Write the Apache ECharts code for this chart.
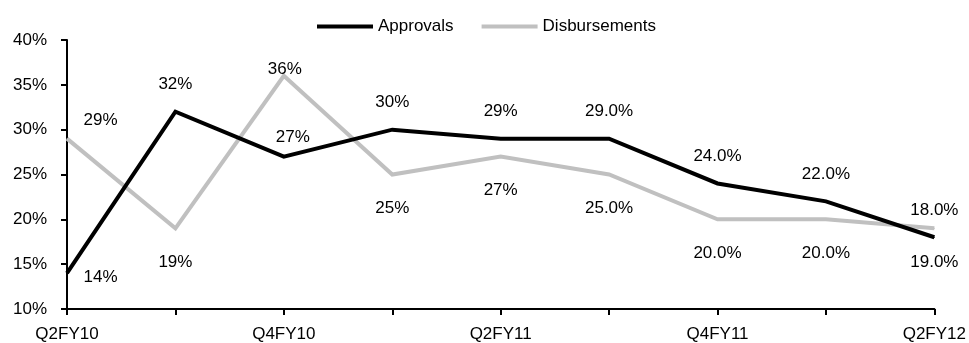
<!DOCTYPE html>
<html>
<head>
<meta charset="utf-8">
<script src="https://cdn.jsdelivr.net/npm/echarts@6/dist/echarts.min.js"></script>
<style>
  html, body { margin: 0; padding: 0; background: #fff; }
  #chart { width: 969px; height: 343px; }
</style>
</head>
<body>
<div id="chart"></div>
<script>
// Quarterly growth rates (%), approvals vs disbursements
var quarters = ['Q2FY10', 'Q3FY10', 'Q4FY10', 'Q1FY11', 'Q2FY11', 'Q3FY11', 'Q4FY11', 'Q1FY12', 'Q2FY12'];
var approvals = [14, 32, 27, 30, 29, 29, 24, 22, 18];
var disbursements = [29, 19, 36, 25, 27, 25, 20, 20, 19];
// decimals shown in each quarter's value label
var labelDecimals = [0, 0, 0, 0, 0, 1, 1, 1, 1];
var yTicks = { min: 10, max: 40, step: 5 };

var FONT = "'Liberation Sans', Arial, Helvetica, sans-serif";

function fmt(v, i) {
  return v.toFixed(labelDecimals[i]) + '%';
}

// per-point label placement tweaks where lines cross or sit at the edge
var approvalsLabelTweaks = {
  0: { position: 'right', distance: 16, offset: [0, 4] },
  2: { position: 'top', distance: 10, offset: [9, 0] }
};
var disbursementsLabelTweaks = {
  0: { position: 'right', distance: 16, offset: [0, -18] },
  2: { position: 'top', distance: -2, offset: [1, 0] }
};

function buildData(values, tweaks) {
  return values.map(function (v, i) {
    var item = { value: v };
    if (tweaks[i]) item.label = tweaks[i];
    return item;
  });
}

var labelBase = {
  show: true,
  color: '#000',
  fontSize: 17,
  fontFamily: FONT
};

var chart = echarts.init(document.getElementById('chart'), null, { renderer: 'canvas' });

chart.setOption({
  animation: false,
  backgroundColor: '#fff',
  textStyle: { fontFamily: FONT },
  grid: { left: 67, right: 33, top: 40, bottom: 34, containLabel: false },
  legend: {
    left: 312,
    top: 13,
    itemWidth: 56,
    itemHeight: 4,
    itemGap: 28,
    icon: 'rect',
    textStyle: { color: '#000', fontSize: 17, fontFamily: FONT },
    data: ['Approvals', 'Disbursements']
  },
  xAxis: {
    type: 'category',
    boundaryGap: false,
    data: quarters,
    axisLine: { lineStyle: { color: '#000', width: 2 } },
    axisTick: { show: true, interval: 0, length: 6, lineStyle: { color: '#000', width: 2 } },
    axisLabel: { interval: 1, color: '#000', fontSize: 17, fontFamily: FONT, margin: 17 },
    splitLine: { show: false }
  },
  yAxis: {
    type: 'value',
    min: yTicks.min,
    max: yTicks.max,
    interval: yTicks.step,
    axisLine: { show: true, lineStyle: { color: '#000', width: 2 } },
    axisTick: { show: true, length: 6, lineStyle: { color: '#000', width: 2 } },
    axisLabel: { color: '#000', fontSize: 17, fontFamily: FONT, margin: 20, formatter: '{value}%' },
    splitLine: { show: false }
  },
  series: [
    {
      name: 'Approvals',
      type: 'line',
      data: buildData(approvals, approvalsLabelTweaks),
      symbol: 'circle',
      symbolSize: 1,
      showSymbol: true,
      lineStyle: { color: '#000', width: 4, join: 'miter' },
      itemStyle: { color: '#000' },
      label: Object.assign({}, labelBase, {
        position: 'top',
        distance: 18,
        formatter: function (p) { return fmt(p.value, p.dataIndex); }
      }),
      z: 3
    },
    {
      name: 'Disbursements',
      type: 'line',
      data: buildData(disbursements, disbursementsLabelTweaks),
      symbol: 'circle',
      symbolSize: 1,
      showSymbol: true,
      lineStyle: { color: '#c0c0c0', width: 4, join: 'miter' },
      itemStyle: { color: '#c0c0c0' },
      label: Object.assign({}, labelBase, {
        position: 'bottom',
        distance: 25,
        formatter: function (p) { return fmt(p.value, p.dataIndex); }
      }),
      z: 2
    }
  ]
});
</script>
</body>
</html>
